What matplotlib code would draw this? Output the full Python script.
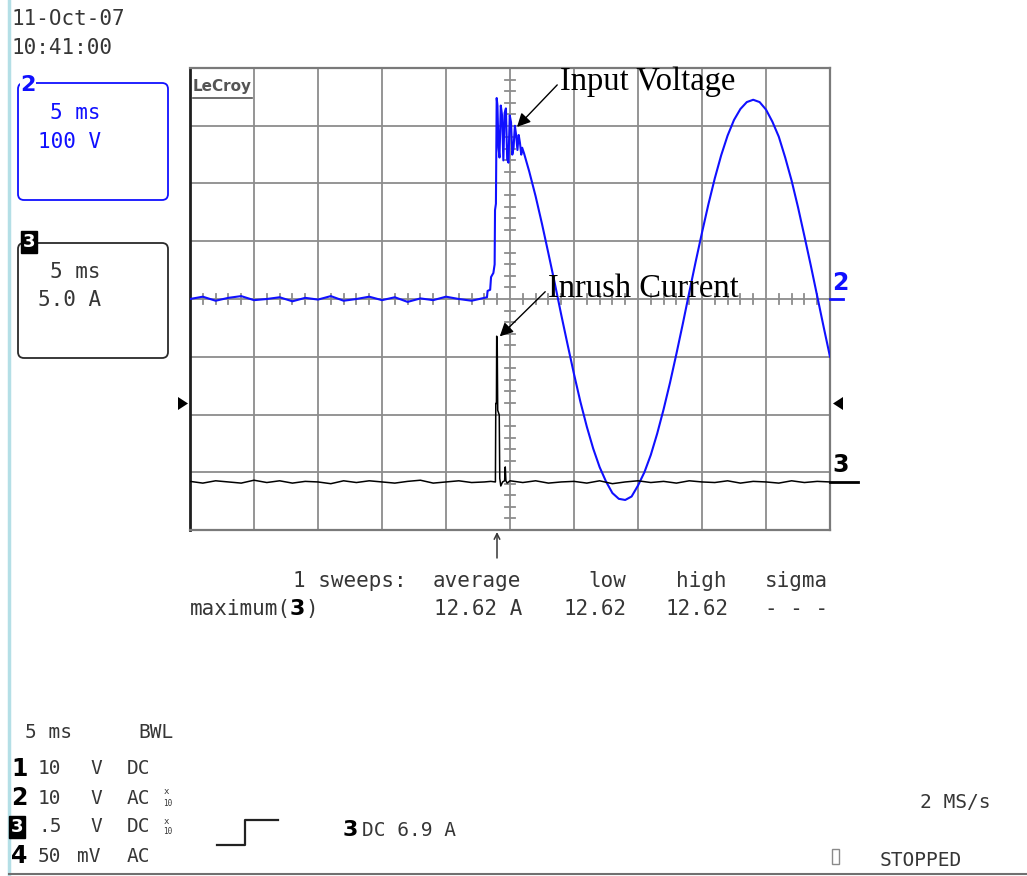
import matplotlib
matplotlib.use('Agg')
import matplotlib.pyplot as plt
from matplotlib.patches import FancyBboxPatch, Polygon, Rectangle
import numpy as np

# ---- channel 2 : input voltage (time in ms, volts) ----
base_t = [-25, -24, -23, -22, -21, -20, -19, -18, -17, -16, -15, -14,
          -13, -12, -11, -10, -9, -8, -7, -6, -5, -4, -3, -2]
base_v = [0, 4, -3, 2, 5, -2, 0, 3, -4, 2, -1, 5,
          -3, 0, 4, -2, 3, -5, 1, -2, 4, 0, -3, 2]
# switch-on with ringing
ring_t = [-1.80, -1.75, -1.55, -1.48, -1.38, -1.30, -1.20, -1.17, -1.10, -1.04,
          -0.98, -0.90, -0.82, -0.72, -0.62, -0.52, -0.42, -0.32, -0.22, -0.12,
          -0.02, 0.08, 0.18, 0.28, 0.38, 0.48, 0.58, 0.68, 0.78, 0.88, 0.95]
ring_v = [3, 14, 16, 38, 42, 45, 60, 154, 165, 348,
          335, 262, 245, 335, 318, 240, 322, 330, 242, 236,
          318, 306, 250, 262, 300, 284, 258, 284, 270, 250, 262]
# mains waveform after switch-on
sine_t = [1.1, 1.5, 2.0, 2.5, 3.0, 3.5, 4.0, 4.5, 5.0, 5.5, 6.0, 6.5, 7.0, 7.5,
          8.0, 8.5, 9.0, 9.5, 10.0, 10.5, 11.0, 11.5, 12.0, 12.5, 13.0, 13.5,
          14.0, 14.5, 15.0, 15.5, 16.0, 16.5, 17.0, 17.5, 18.0, 18.5, 19.0,
          19.5, 20.0, 20.5, 21.0, 21.5, 22.0, 22.5, 23.0, 23.5, 24.0, 24.5, 25.0]
sine_v = [252, 221, 178, 130, 79, 27, -27, -79, -130, -178, -221, -259, -291, -316,
          -336, -346, -348, -342, -323, -300, -270, -233, -191, -145, -95, -43,
          11, 64, 115, 164, 209, 249, 283, 310, 329, 341, 345,
          341, 328, 307, 281, 245, 205, 159, 109, 58, 5, -48, -100]

# ---- channel 3 : inrush current (time in ms, amps) ----
cur_t = [-25, -24, -23, -22, -21, -20, -19, -18, -17, -16, -15, -14, -13, -12,
         -11, -10, -9, -8, -7, -6, -5, -4, -3, -2, -1.5,
         -1.14, -1.11, -1.06, -1.04, -1.00, -0.96, -0.84, -0.80, -0.72, -0.58,
         -0.42, -0.37, -0.32, -0.22,
         0, 1, 2, 3, 4, 5, 6, 7, 8, 9, 10, 11, 12, 13, 14, 15, 16, 17, 18, 19,
         20, 21, 22, 23, 24, 25]
cur_a = [0.05, -0.1, 0.1, 0, -0.1, 0.15, -0.05, 0.1, -0.1, 0.05, 0, -0.15, 0.1, -0.05,
         0.1, 0, -0.1, 0.05, 0.15, -0.1, 0, 0.1, -0.05, 0, 0.05,
         0, 6.8, 6.8, 12.62, 12.3, 6.2, 5.8, 0.3, -0.35, 0.0,
         0.1, 1.3, 0.1, -0.1,
         0.1, -0.05, 0.1, -0.1, 0, 0.05, -0.1, 0.1, -0.15, 0, 0.1, -0.05, 0.05, -0.1,
         0.1, 0, -0.05, 0.1, -0.1, 0.05, 0, -0.1, 0.1, -0.05, 0.05, 0]

meas_names = ['average', 'low', 'high', 'sigma']
meas_values = ['12.62 A', '12.62', '12.62', '- - -']

W, H = 1027, 876
blue = '#1010ff'
grey = '#363636'
mono = 'DejaVu Sans Mono'

fig = plt.figure(figsize=(W / 100, H / 100), dpi=100)
fig.patch.set_facecolor('white')

# scope screen: 10 x 8 divisions, 5 ms/div, 100 V/div
gx0, gx1, gy0, gy1 = 190, 830, 68, 530
ax = fig.add_axes([gx0 / W, 1 - gy1 / H, (gx1 - gx0) / W, (gy1 - gy0) / H])
ax.set_xlim(-25, 25)
ax.set_ylim(-400, 400)
ax.set_xticks(np.arange(-25, 26, 5))
ax.set_yticks(np.arange(-400, 401, 100))
ax.tick_params(length=0, labelbottom=False, labelleft=False)
ax.grid(True, color='#8c8c8c', lw=1.3)
for s in ax.spines.values():
    s.set_color('#7a7a7a')
    s.set_linewidth(1.6)
ax.spines['left'].set_color('#1e1e1e')
ax.spines['left'].set_linewidth(2)

# small marks on the centre cross
for t in np.arange(-25, 25.1, 1):
    if t % 5:
        ax.plot([t, t], [-9, 9], color='#8c8c8c', lw=1.3)
for v in np.arange(-400, 401, 20):
    if v % 100:
        ax.plot([-0.4, 0.4], [v, v], color='#8c8c8c', lw=1.3)

ax.plot(base_t + ring_t + sine_t, base_v + ring_v + sine_v, color=blue, lw=1.5, zorder=3)

# current axis: 5 A/div, zero 0.83 div above bottom
ax2 = ax.twinx()
ax2.set_ylim(-4.16, 35.84)
ax2.axis('off')
ax2.plot(cur_t, cur_a, color='black', lw=1.1, zorder=4)

arrow = dict(arrowstyle='-|>', color='black', lw=1, mutation_scale=20,
             relpos=(0, 0.5), shrinkA=0, shrinkB=0)
ax.annotate('Input Voltage', xy=(0.55, 298), xytext=(560, H - 82),
            textcoords='figure pixels', fontsize=23.5, family='Liberation Serif',
            ha='left', va='center', arrowprops=arrow)
ax2.annotate('Inrush Current', xy=(-0.8, 12.6), xytext=(548, H - 289),
             textcoords='figure pixels', fontsize=23.5, family='Liberation Serif',
             ha='left', va='center', arrowprops=arrow)

# overlay in pixel units for the scope readouts
ov = fig.add_axes([0, 0, 1, 1], zorder=5)
ov.set_xlim(0, W)
ov.set_ylim(H, 0)
ov.axis('off')
ov.patch.set_alpha(0)


def lcd(x, y, s, size=15, color=grey, **kw):
    ov.text(x, y, s, fontsize=size, family=mono, color=color,
            ha='left', va='center', **kw)


def boxed_three(x, y, size):
    ov.text(x, y, '3', fontsize=size, fontweight='bold', color='white', ha='center',
            va='center', bbox=dict(fc='black', ec='black', pad=0.12, boxstyle='square'))


ov.plot([9, 9], [0, H], color='#b4dfe6', lw=2.5)
ov.plot([9, W], [874, 874], color='#707070', lw=1.5)

lcd(12, 19, '11-Oct-07')
lcd(12, 48, '10:41:00')

# channel boxes
ov.add_patch(FancyBboxPatch((18, 83), 150, 117, boxstyle='round,pad=0,rounding_size=6',
                            fc='none', ec=blue, lw=1.3))
ov.text(28, 85, '2', fontsize=16, fontweight='bold', color=blue, ha='center', va='center',
        bbox=dict(fc='white', ec='none', pad=0.5))
lcd(50, 113, '5 ms', color=blue)
lcd(38, 142, '100 V', color=blue)

ov.add_patch(FancyBboxPatch((18, 243), 150, 115, boxstyle='round,pad=0,rounding_size=6',
                            fc='none', ec='#2a2a2a', lw=1.3))
boxed_three(29, 242, 13)
lcd(50, 272, '5 ms')
lcd(38, 300, '5.0 A')

ov.text(193, 86, 'LeCroy', fontsize=11, family='DejaVu Sans', fontweight='bold',
        color='#555555', ha='left', va='center')
ov.plot([193, 252], [98, 98], color='#555555', lw=1.2)

# trace markers at right side, trigger level triangles
ov.text(832, 283, '2', fontsize=17, fontweight='bold', color=blue, ha='left', va='center')
ov.plot([830, 843], [299, 299], color=blue, lw=2)
ov.text(832, 465, '3', fontsize=17, fontweight='bold', color='black', ha='left', va='center')
ov.plot([830, 858], [482, 482], color='black', lw=2)
ov.add_patch(Polygon([(178, 397), (178, 410), (188, 403.5)], closed=True, fc='black', ec='none'))
ov.add_patch(Polygon([(843, 397), (843, 410), (833, 403.5)], closed=True, fc='black', ec='none'))
ov.annotate('', xy=(497, 532), xytext=(497, 558),
            arrowprops=dict(arrowstyle='->', color=grey, lw=1.1, mutation_scale=10,
                            shrinkA=0, shrinkB=0))

# measurement table
lcd(293, 581, '1 sweeps:')
lcd(190, 609, 'maximum(')
ov.text(290, 609, '3', fontsize=16, fontweight='bold', color='black', ha='left', va='center')
lcd(305, 609, ')')
name_x = [433, 588, 676, 765]
val_x = [434, 563, 665, 765]
for nx, vx, name, val in zip(name_x, val_x, meas_names, meas_values):
    lcd(nx, 581, name)
    lcd(vx, 609, val)

# channel settings at the bottom
lcd(25, 732, '5 ms', size=14)
lcd(138, 732, 'BWL', size=14)
rows_y = [769, 798, 827, 856]
ch_volts = ['10', '10', '.5', '50']
ch_units = ['V', 'V', 'V', 'mV']
ch_coupling = ['DC', 'AC', 'DC', 'AC']
for i, y in enumerate(rows_y):
    if i == 2:
        boxed_three(17, y, 13)
    else:
        ov.text(11, y, str(i + 1), fontsize=17, fontweight='bold', color='black',
                ha='left', va='center')
    lcd(38, y, ch_volts[i], size=14)
    lcd(90 if ch_units[i] == 'V' else 77, y, ch_units[i], size=14)
    lcd(127, y, ch_coupling[i], size=14)
    if i in (1, 2):
        lcd(164, y - 6, 'x', size=6.5)
        lcd(163, y + 5, '10', size=5.5)

ov.plot([217, 245, 245, 278], [845, 845, 820, 820], color='#222222', lw=1.6)
ov.text(343, 830, '3', fontsize=16, fontweight='bold', color='black', ha='left', va='center')
lcd(362, 830, 'DC 6.9 A', size=14)
lcd(920, 803, '2 MS/s', size=14)
ov.add_patch(Rectangle((832, 849), 7, 15, fc='none', ec='#8a8a8a', lw=1))
lcd(880, 860, 'STOPPED', size=14)

fig.savefig('out.png', dpi=100, facecolor='white')
